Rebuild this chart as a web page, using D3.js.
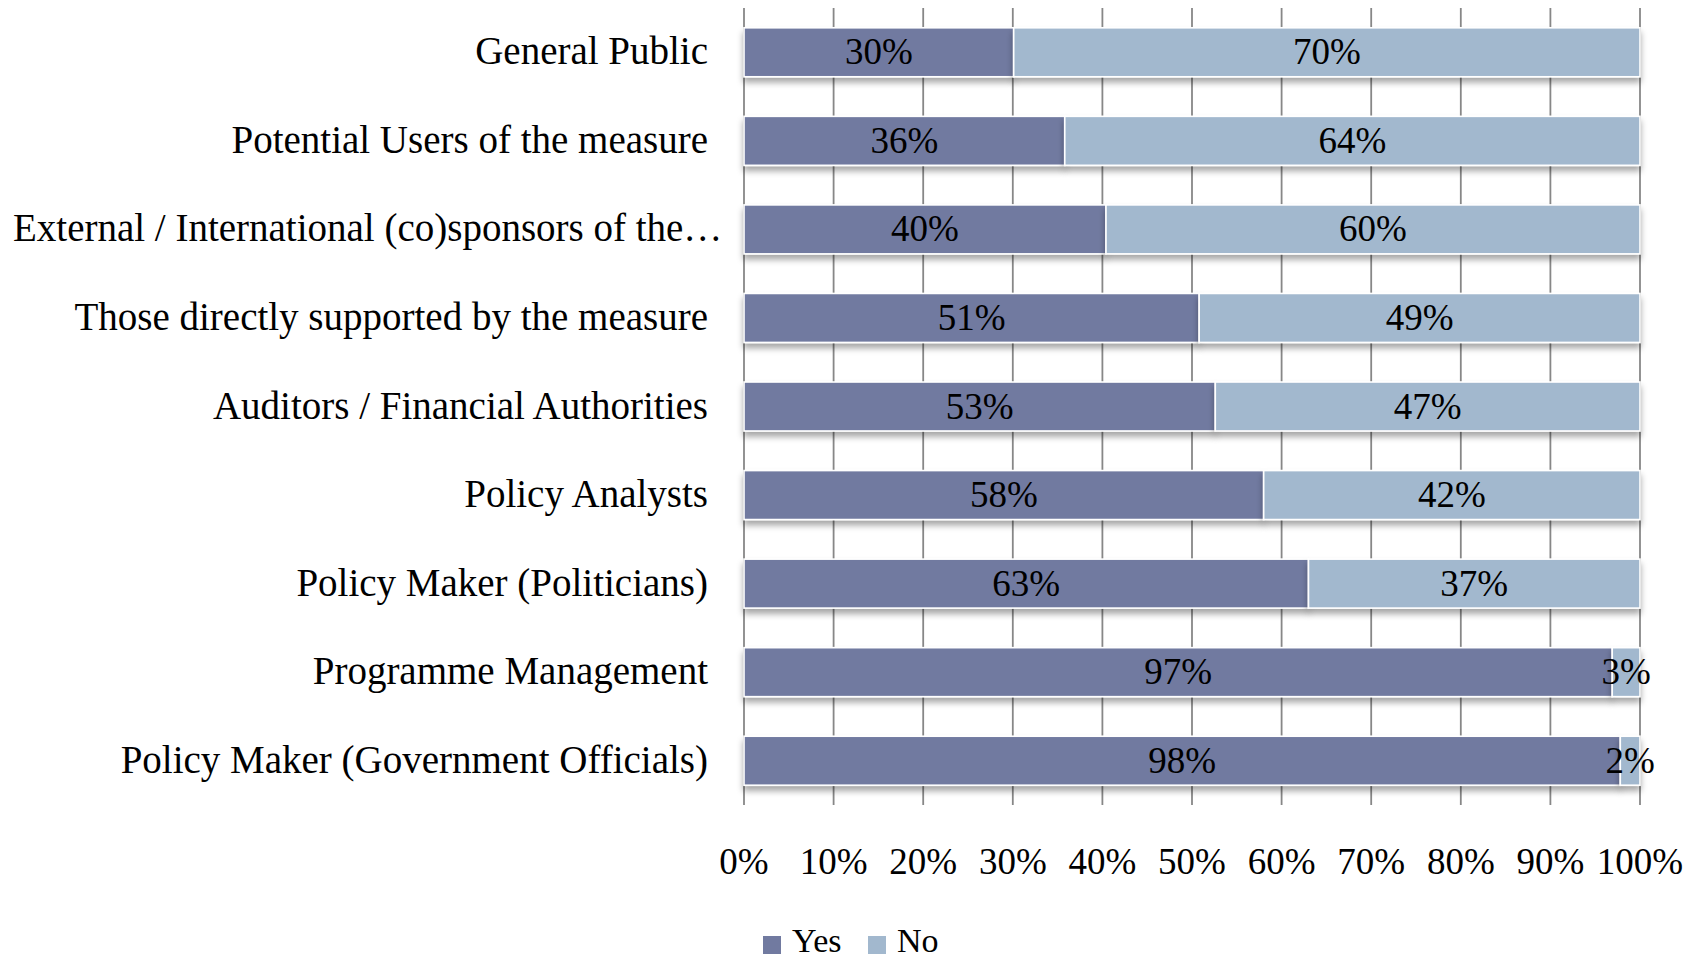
<!DOCTYPE html>
<html>
<head>
<meta charset="utf-8">
<script src="https://cdn.jsdelivr.net/npm/d3@7/dist/d3.min.js"></script>
<style>
  html, body { margin: 0; padding: 0; background: #fff; }
  svg { display: block; }
  text { font-family: "Liberation Serif", "Times New Roman", serif; fill: #000; }
</style>
</head>
<body>
<svg id="chart" width="1696" height="958"></svg>
<script>
const categories = [
  "General Public",
  "Potential Users of the measure",
  "External / International (co)sponsors of the…",
  "Those directly supported by the measure",
  "Auditors / Financial Authorities",
  "Policy Analysts",
  "Policy Maker (Politicians)",
  "Programme Management",
  "Policy Maker (Government Officials)"
];
const yesValues = [30.1, 35.8, 40.4, 50.8, 52.6, 58.0, 63.0, 96.9, 97.8];
const noValues  = [69.9, 64.2, 59.6, 49.2, 47.4, 42.0, 37.0, 3.1, 2.2];
const seriesNames = ["Yes", "No"];
const seriesColors = ["#717aa0", "#a2b8ce"];
const tickValues = [0, 10, 20, 30, 40, 50, 60, 70, 80, 90, 100];

const svg = d3.select("#chart");
const margin = { left: 744, right: 56, top: 8, bottom: 153 };
const W = 1696, H = 958;

const x = d3.scaleLinear().domain([0, 100]).range([margin.left, W - margin.right]);
const y = d3.scaleBand().domain(categories).range([margin.top, H - margin.bottom]).paddingInner(0.447).paddingOuter(0.2235);

const defs = svg.append("defs");
const f = defs.append("filter").attr("id", "shadow").attr("x", "-5%").attr("y", "-20%").attr("width", "110%").attr("height", "160%");
f.append("feDropShadow").attr("dx", 0).attr("dy", 5).attr("stdDeviation", 3).attr("flood-color", "#000").attr("flood-opacity", 0.35);

// gridlines
svg.append("g").selectAll("line").data(tickValues).join("line")
  .attr("x1", d => x(d)).attr("x2", d => x(d))
  .attr("y1", margin.top).attr("y2", H - margin.bottom)
  .attr("stroke", "#878787").attr("stroke-width", 1.8);

// stacked data
const rows = categories.map((c, i) => ({ cat: c, Yes: yesValues[i], No: noValues[i] }));
const stack = d3.stack().keys(seriesNames)(rows);

const gBars = svg.append("g");
stack.forEach((s, si) => {
  gBars.append("g").attr("filter", "url(#shadow)").selectAll("rect").data(s).join("rect")
    .attr("x", d => x(d[0]))
    .attr("width", d => x(d[1]) - x(d[0]))
    .attr("y", d => y(d.data.cat))
    .attr("height", y.bandwidth())
    .attr("fill", seriesColors[si])
    .attr("stroke", "#fff").attr("stroke-width", 1.6);
});

// value labels
stack.forEach((s, si) => {
  svg.append("g").selectAll("text").data(s).join("text")
    .attr("x", d => (x(d[0]) + x(d[1])) / 2)
    .attr("y", d => y(d.data.cat) + y.bandwidth() / 2 + 12)
    .attr("text-anchor", "middle")
    .attr("font-size", 37)
    .text(d => Math.round(d[1] - d[0]) + "%");
});

// category labels (truncated label flows from the left edge, as in the original)
svg.append("g").selectAll("text").data(categories).join("text")
  .attr("x", d => d.endsWith("…") ? 13 : 708)
  .attr("y", d => y(d) + y.bandwidth() / 2 + 12)
  .attr("text-anchor", d => d.endsWith("…") ? "start" : "end")
  .attr("font-size", 39)
  .text(d => d);

// x tick labels
svg.append("g").selectAll("text").data(tickValues).join("text")
  .attr("x", d => x(d))
  .attr("y", 874)
  .attr("text-anchor", "middle")
  .attr("font-size", 37)
  .text(d => d + "%");

// legend
const legX = [763, 868];
const leg = svg.append("g");
seriesNames.forEach((n, i) => {
  leg.append("rect").attr("x", legX[i]).attr("y", 936).attr("width", 18).attr("height", 18).attr("fill", seriesColors[i]);
  leg.append("text").attr("x", legX[i] + 29).attr("y", 952).attr("font-size", 34).text(n);
});
</script>
</body>
</html>
